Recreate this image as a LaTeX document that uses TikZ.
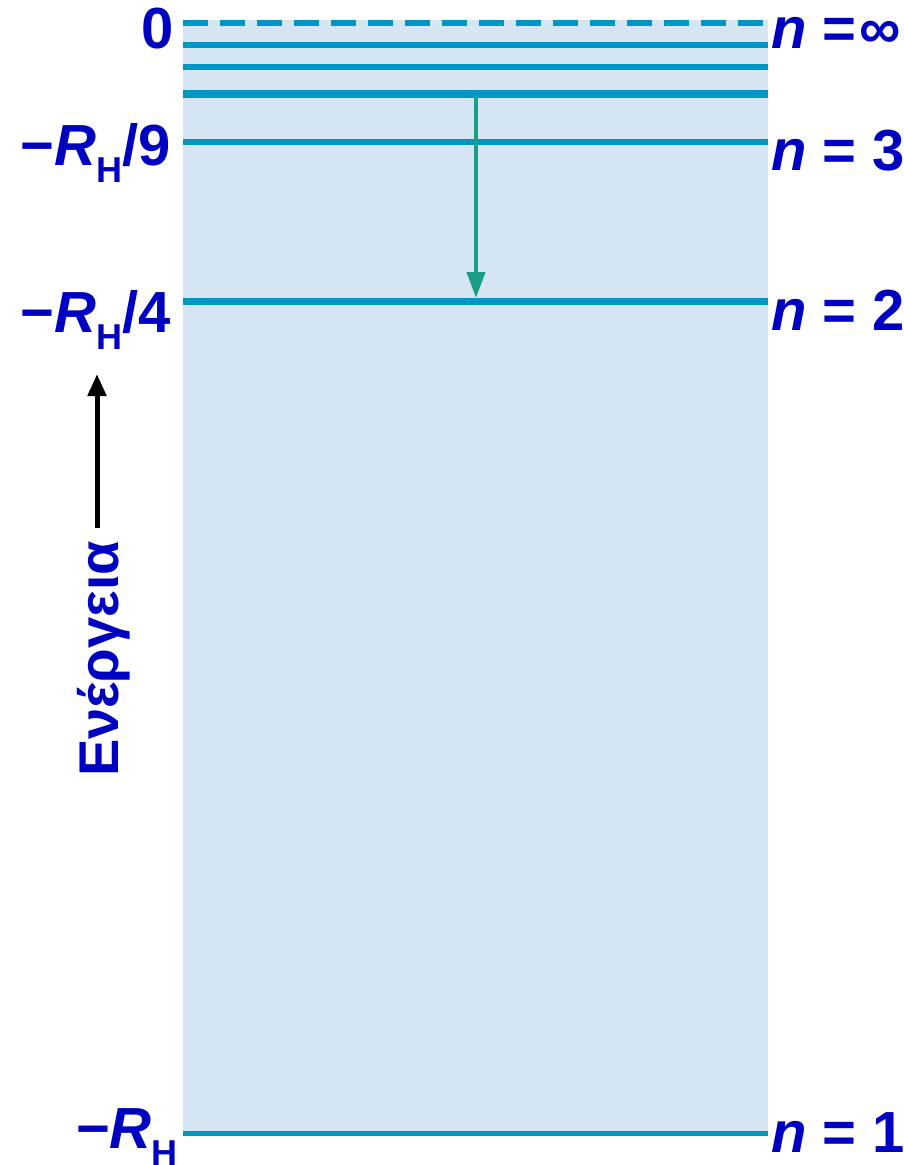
\documentclass[tikz,border=0pt]{standalone}
\usepackage{fontspec}
\setmainfont{Liberation Sans}
\usetikzlibrary{arrows.meta}
\definecolor{lab}{HTML}{0000C0}
\definecolor{lvl}{HTML}{0096C3}
\definecolor{bgfill}{HTML}{D5E5F4}
\definecolor{trans}{HTML}{1A9F84}
\newcommand{\RH}{\textit{R}\raisebox{-0.3em}[0pt][0pt]{\fontsize{36}{36}\selectfont H}}
\begin{document}
\begin{tikzpicture}[x=1pt,y=-1pt,
  lbl/.style={text=lab,font=\fontsize{58}{58}\selectfont\bfseries,inner sep=0pt},
  level/.style={draw=lvl,line width=#1},
  level/.default=6pt]
\useasboundingbox (0,0) rectangle (904,1165);
\fill[bgfill] (183,20) rectangle (768,1133);
% levels
\draw[lvl,line width=6pt,dash pattern=on 25pt off 12pt] (183,23) -- (768,23);
\draw[level=6pt] (183,45) -- (768,45);
\draw[level=6pt] (183,67) -- (768,67);
\draw[level=8pt] (183,94) -- (768,94);
\draw[level=6pt] (183,142) -- (768,142);
\draw[level=7pt] (183,301) -- (768,301);
\draw[level=5pt] (183,1133) -- (768,1133);
% transition arrow
\coordinate (t4) at (476,98);
\coordinate (t2) at (476,298);
\draw[trans,line width=4pt,-{Triangle[length=26pt,width=18pt]}] (t4) -- (t2);
% left labels
\node[lbl,anchor=base east] (l0) at (174,48) {0};
\node[lbl,anchor=base east] (l3) at (171,165) {−\RH/9};
\node[lbl,anchor=base east] (l2) at (171,332) {−\RH/4};
\node[lbl,anchor=base east] (l1) at (178,1148) {−\RH};
% right labels
\node[lbl,anchor=base west] (rinf) at (771,48) {\textit{n} =\kern0.05em∞};
\node[lbl,anchor=base west] (r3) at (771,170) {\textit{n} = 3};
\node[lbl,anchor=base west] (r2) at (771,330) {\textit{n} = 2};
\node[lbl,anchor=base west] (r1) at (771,1152) {\textit{n} = 1};
% energy axis
\node[lbl,font=\fontsize{56}{56}\selectfont\bfseries,rotate=90,anchor=base west] (en) at (118,777) {Ενέργεια};
\coordinate (ebase) at (97,528);
\coordinate (etip) at (97,374);
\draw[black,line width=5pt,-{Triangle[length=22pt,width=18pt]}] (ebase) -- (etip);
\end{tikzpicture}
\end{document}
